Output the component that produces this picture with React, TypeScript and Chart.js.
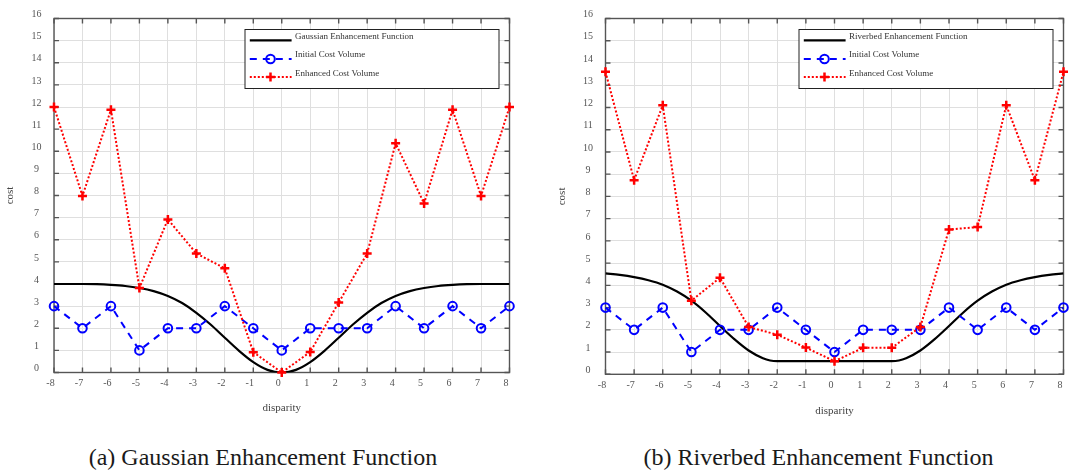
import React, { useEffect, useRef } from "react";
import { Chart, registerables } from "chart.js";

Chart.register(...registerables);

// ---------- data ----------
const disparity = [-8, -7, -6, -5, -4, -3, -2, -1, 0, 1, 2, 3, 4, 5, 6, 7, 8];
const initialCost = [3, 2, 3, 1, 2, 2, 3, 2, 1, 2, 2, 2, 3, 2, 3, 2, 3];
const gaussianEnhancedCost = [12.0, 7.98, 11.88, 3.82, 6.92, 5.38, 4.71, 0.92, 0.0, 0.93, 3.16, 5.38, 10.36, 7.64, 11.88, 7.98, 12.0];
const riverbedEnhancedCost = [13.6, 8.73, 12.1, 3.31, 4.34, 2.13, 1.78, 1.2, 0.59, 1.19, 1.19, 2.13, 6.51, 6.62, 12.1, 8.73, 13.6];

const gaussianCurveX = [-8, -7.5, -7, -6.5, -6, -5.5, -5, -4.5, -4, -3.5, -3, -2.5, -2, -1.5, -1, -0.5, 0, 0.5, 1, 1.5, 2, 2.5, 3, 3.5, 4, 4.5, 5, 5.5, 6, 6.5, 7, 7.5, 8];
const gaussianCurveY = [4.0, 4.0, 4.0, 3.99, 3.96, 3.91, 3.82, 3.68, 3.46, 3.14, 2.7, 2.17, 1.57, 0.98, 0.47, 0.12, 0.0, 0.12, 0.47, 0.98, 1.57, 2.17, 2.7, 3.14, 3.46, 3.68, 3.82, 3.91, 3.96, 3.99, 4.0, 4.0, 4.0];

const riverbedCurveX = [-8, -7.5, -7, -6.5, -6, -5.5, -5, -4.5, -4, -3.5, -3, -2.5, -2.25, -2, -1, 0, 1, 2, 2.25, 2.5, 3, 3.5, 4, 4.5, 5, 5.5, 6, 6.5, 7, 7.5, 8];
const riverbedCurveY = [4.54, 4.47, 4.37, 4.23, 4.03, 3.72, 3.31, 2.78, 2.17, 1.58, 1.07, 0.72, 0.62, 0.59, 0.59, 0.59, 0.59, 0.59, 0.62, 0.72, 1.07, 1.58, 2.17, 2.78, 3.31, 3.72, 4.03, 4.23, 4.37, 4.47, 4.54];

const xRange = [-8, 8];
const yRange = [0, 16];
const xTitle = "disparity";
const yTitle = "cost";
const initialLabel = "Initial Cost Volume";
const enhancedLabel = "Enhanced Cost Volume";

const FONT = '"Liberation Serif", "Times New Roman", Times, serif';

type Panel = {
  curveLabel: string;
  curveX: number[];
  curveY: number[];
  enhanced: number[];
  caption: string;
  left: number;
  width: number;
  padding: { left: number; right: number; top: number; bottom: number };
  xTitlePad: number;
  captionCenter: number;
};

const panels: Panel[] = [
  {
    curveLabel: "Gaussian Enhancement Function",
    curveX: gaussianCurveX,
    curveY: gaussianCurveY,
    enhanced: gaussianEnhancedCost,
    caption: "(a) Gaussian Enhancement Function",
    left: 0,
    width: 535,
    padding: { left: 0, right: 25.5, top: 13.5, bottom: 7.5 },
    xTitlePad: 8.2,
    captionCenter: 263,
  },
  {
    curveLabel: "Riverbed Enhancement Function",
    curveX: riverbedCurveX,
    curveY: riverbedCurveY,
    enhanced: riverbedEnhancedCost,
    caption: "(b) Riverbed Enhancement Function",
    left: 540,
    width: 531,
    padding: { left: 11.5, right: 4, top: 11.8, bottom: 5.7 },
    xTitlePad: 7,
    captionCenter: 818.5,
  },
];

const CANVAS_H = 430;

const framePlugin = {
  id: "frameAndLegend",
  beforeDatasetsDraw(chart: any) {
    const { ctx, chartArea, scales } = chart;
    const { left, right, top, bottom } = chartArea;
    const xs = scales.x;
    const ys = scales.y;
    ctx.save();
    ctx.strokeStyle = "#555555";
    ctx.lineWidth = 1.4;
    ctx.setLineDash([]);
    ctx.strokeRect(left, top, right - left, bottom - top);
    ctx.beginPath();
    const tl = 5;
    xs.ticks.forEach((t: any) => {
      const p = xs.getPixelForValue(t.value);
      ctx.moveTo(p, bottom);
      ctx.lineTo(p, bottom - tl);
      ctx.moveTo(p, top);
      ctx.lineTo(p, top + tl);
    });
    ys.ticks.forEach((t: any) => {
      const p = ys.getPixelForValue(t.value);
      ctx.moveTo(left, p);
      ctx.lineTo(left + tl, p);
      ctx.moveTo(right, p);
      ctx.lineTo(right - tl, p);
    });
    ctx.stroke();
    ctx.restore();
  },
  afterDraw(chart: any) {
    const { ctx, chartArea } = chart;
    const ds = chart.data.datasets;
    const bw = 254;
    const bh = 59;
    const bx = chartArea.right - 10.5 - bw;
    const by = chartArea.top + 11;
    ctx.save();
    ctx.fillStyle = "#ffffff";
    ctx.fillRect(bx, by, bw, bh);
    ctx.strokeStyle = "#222222";
    ctx.lineWidth = 1;
    ctx.setLineDash([]);
    ctx.strokeRect(bx, by, bw, bh);
    const rows = [
      { d: ds[0], lineY: by + 10.8, textY: by + 7 },
      { d: ds[1], lineY: by + 29.5, textY: by + 25.6 },
      { d: ds[2], lineY: by + 47.4, textY: by + 44 },
    ];
    const x0 = bx + 4.8;
    const x1 = bx + 46.6;
    const mx = bx + 25.5;
    rows.forEach((r) => {
      const d = r.d;
      ctx.strokeStyle = d.borderColor;
      ctx.lineWidth = d.borderWidth;
      ctx.setLineDash(d.borderDash || []);
      ctx.beginPath();
      ctx.moveTo(x0, r.lineY);
      ctx.lineTo(x1, r.lineY);
      ctx.stroke();
      ctx.setLineDash([]);
      if (d.pointStyle === "circle" && d.pointRadius > 0) {
        ctx.lineWidth = d.pointBorderWidth;
        ctx.beginPath();
        ctx.arc(mx, r.lineY, d.pointRadius, 0, Math.PI * 2);
        ctx.stroke();
      } else if (d.pointStyle === "cross" && d.pointRadius > 0) {
        ctx.lineWidth = d.pointBorderWidth;
        ctx.beginPath();
        ctx.moveTo(mx - d.pointRadius, r.lineY);
        ctx.lineTo(mx + d.pointRadius, r.lineY);
        ctx.moveTo(mx, r.lineY - d.pointRadius);
        ctx.lineTo(mx, r.lineY + d.pointRadius);
        ctx.stroke();
      }
      ctx.fillStyle = "#333333";
      ctx.font = `9px ${FONT}`;
      ctx.textAlign = "left";
      ctx.textBaseline = "middle";
      ctx.fillText(d.label, bx + 50, r.textY);
    });
    ctx.restore();
  },
};

function ChartPanel({ panel }: { panel: Panel }) {
  const ref = useRef<HTMLCanvasElement | null>(null);
  useEffect(() => {
    if (!ref.current) return;
    const chart = new Chart(ref.current, {
      type: "line",
      data: {
        datasets: [
          {
            label: panel.curveLabel,
            data: panel.curveX.map((x, i) => ({ x, y: panel.curveY[i] })),
            borderColor: "#000000",
            borderWidth: 2.2,
            pointRadius: 0,
            cubicInterpolationMode: "monotone",
            fill: false,
            order: 3,
          },
          {
            label: initialLabel,
            data: disparity.map((x, i) => ({ x, y: initialCost[i] })),
            borderColor: "#0000ff",
            borderWidth: 2,
            borderDash: [7, 6],
            pointStyle: "circle",
            pointRadius: 4.3,
            pointBorderWidth: 2,
            pointBorderColor: "#0000ff",
            pointBackgroundColor: "rgba(0,0,0,0)",
            tension: 0,
            fill: false,
            clip: false,
            order: 2,
          },
          {
            label: enhancedLabel,
            data: disparity.map((x, i) => ({ x, y: panel.enhanced[i] })),
            borderColor: "#ff0000",
            borderWidth: 2,
            borderDash: [2, 2],
            pointStyle: "cross",
            pointRadius: 4.5,
            pointBorderWidth: 2.5,
            pointBorderColor: "#ff0000",
            pointBackgroundColor: "#ff0000",
            tension: 0,
            fill: false,
            clip: false,
            order: 1,
          },
        ] as any,
      },
      options: {
        responsive: false,
        animation: false,
        devicePixelRatio: 1,
        events: [],
        layout: { padding: panel.padding },
        plugins: {
          legend: { display: false },
          tooltip: { enabled: false },
          title: { display: false },
        },
        scales: {
          x: {
            type: "linear",
            min: xRange[0],
            max: xRange[1],
            afterFit: (s: any) => {
              s.height = 50;
            },
            ticks: {
              stepSize: 1,
              autoSkip: false,
              maxRotation: 0,
              padding: 5,
              labelOffset: -3.5,
              color: "#555555",
              font: { family: FONT, size: 10 },
            },
            grid: { color: "#dfdfdf", lineWidth: 1, drawTicks: false },
            border: { display: false },
            title: {
              display: true,
              text: xTitle,
              color: "#444444",
              font: { family: FONT, size: 11 },
              padding: { top: 0, bottom: panel.xTitlePad },
            },
          },
          y: {
            type: "linear",
            min: yRange[0],
            max: yRange[1],
            afterFit: (s: any) => {
              s.width = 54;
            },
            ticks: {
              stepSize: 1,
              autoSkip: false,
              padding: 12.5,
              crossAlign: "center",
              labelOffset: -4,
              color: "#555555",
              font: { family: FONT, size: 10 },
            },
            grid: { color: "#dfdfdf", lineWidth: 1, drawTicks: false },
            border: { display: false },
            title: {
              display: true,
              text: yTitle,
              color: "#444444",
              font: { family: FONT, size: 11 },
              padding: { top: 4, bottom: 0 },
            },
          },
        },
      } as any,
      plugins: [framePlugin],
    });
    return () => chart.destroy();
  }, [panel]);

  return (
    <>
      <div style={{ position: "absolute", left: panel.left, top: 0, width: panel.width, height: CANVAS_H }}>
        <canvas ref={ref} width={panel.width} height={CANVAS_H} style={{ display: "block" }} />
      </div>
      <div
        style={{
          position: "absolute",
          left: panel.captionCenter - 250,
          width: 500,
          top: 443,
          height: 28,
          lineHeight: "28px",
          textAlign: "center",
          fontFamily: FONT,
          fontSize: 24,
          color: "#1a1a1a",
          whiteSpace: "nowrap",
        }}
      >
        {panel.caption}
      </div>
    </>
  );
}

export default function App() {
  return (
    <div
      style={{
        position: "absolute",
        left: 0,
        top: 0,
        width: 1071,
        height: 475,
        background: "#ffffff",
        overflow: "hidden",
      }}
    >
      {panels.map((p) => (
        <ChartPanel key={p.caption} panel={p} />
      ))}
    </div>
  );
}
